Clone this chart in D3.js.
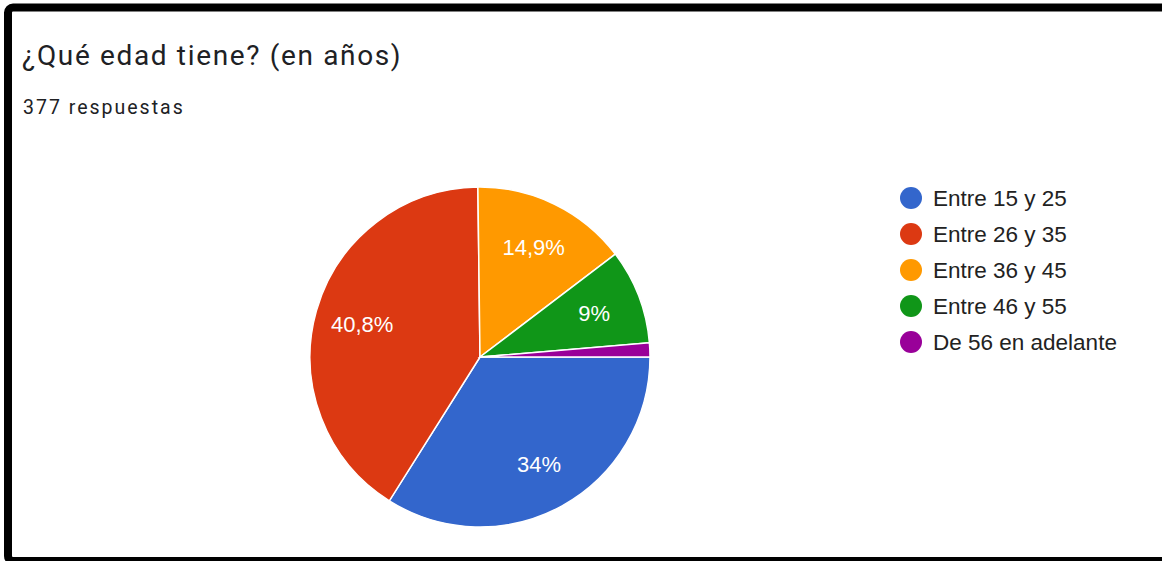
<!DOCTYPE html>
<html>
<head>
<meta charset="utf-8">
<script src="https://cdn.jsdelivr.net/npm/d3@7"></script>
<style>
  body { margin: 0; background: #fff; }
  svg { display: block; }
</style>
</head>
<body>
<svg id="drawing_region"></svg>
<script>
// data (377 respuestas)
const categories = ['Entre 15 y 25', 'Entre 26 y 35', 'Entre 36 y 45', 'Entre 46 y 55', 'De 56 en adelante']
const counts = [128, 154, 56, 34, 5]
const labels = ['34%', '40,8%', '14,9%', '9%', '']
const colors = ['#3366cc', '#dc3912', '#ff9900', '#109618', '#990099']
const title = '¿Qué edad tiene? (en años)'
const subtitle = '377 respuestas'

class PieChart{
    constructor(config){
        this.config = {
            parent: config.parent,
            width: config.width || 1162,
            height: config.height || 561,
            cx: config.cx,
            cy: config.cy,
            radius: config.radius
        }
        this.init()
    }

    init(){
        let self = this
        self.svg = d3.select(self.config.parent)
            .attr('width', self.config.width)
            .attr('height', self.config.height)

        // frame of the screenshot
        self.svg.append('rect')
            .attr('x', 8).attr('y', 7.5)
            .attr('width', 1300).attr('height', 553.5)
            .attr('rx', 5)
            .attr('fill', 'none')
            .attr('stroke', '#000')
            .attr('stroke-width', 8)

        self.chart = self.svg.append('g')
            .attr('transform', `translate(${self.config.cx},${self.config.cy})`)

        self.pie = d3.pie()
            .sort(null)
            .startAngle(Math.PI / 2)
            .endAngle(Math.PI / 2 + 2 * Math.PI)
            .value(d => d.value)

        self.arc = d3.arc().innerRadius(0).outerRadius(self.config.radius)
        self.labelArc = d3.arc().innerRadius(self.config.radius * 0.72).outerRadius(self.config.radius * 0.72)
        self.color = d3.scaleOrdinal().domain(categories).range(colors)
    }

    render(){
        let self = this
        const data = categories.map((c, i) => ({key: c, value: counts[i], label: labels[i]}))
        const arcs = self.pie(data)

        self.svg.append('text')
            .attr('x', 22).attr('y', 65)
            .attr('font-family', 'Roboto, sans-serif')
            .attr('font-size', 28)
            .attr('letter-spacing', 1.65)
            .attr('fill', '#202124')
            .text(title)

        self.svg.append('text')
            .attr('x', 23).attr('y', 114)
            .attr('font-family', 'Roboto, sans-serif')
            .attr('font-size', 19.5)
            .attr('letter-spacing', 2)
            .attr('fill', '#202124')
            .text(subtitle)

        self.chart.selectAll('path')
            .data(arcs).enter()
            .append('path')
            .attr('d', self.arc)
            .attr('fill', d => self.color(d.data.key))
            .attr('stroke', '#fff')
            .attr('stroke-width', 1.5)

        self.chart.selectAll('text.pct')
            .data(arcs).enter()
            .append('text')
            .attr('class', 'pct')
            .attr('transform', d => `translate(${self.labelArc.centroid(d)})`)
            .attr('text-anchor', 'middle')
            .attr('dy', '0.36em')
            .attr('font-family', 'Liberation Sans, Arial, sans-serif')
            .attr('font-size', 22)
            .attr('fill', '#fff')
            .text(d => d.data.label)

        const legend = self.svg.append('g')
            .attr('transform', 'translate(911,198)')
        const ly = d3.scalePoint().domain(categories).range([0, 144])

        const item = legend.selectAll('g')
            .data(categories).enter()
            .append('g')
            .attr('transform', d => `translate(0,${ly(d)})`)
        item.append('circle')
            .attr('r', 11)
            .attr('fill', d => self.color(d))
        item.append('text')
            .attr('x', 22)
            .attr('dy', '0.36em')
            .attr('font-family', 'Liberation Sans, Arial, sans-serif')
            .attr('font-size', 22.5)
            .attr('fill', '#222')
            .text(d => d)
    }
}

const pie_chart = new PieChart({parent: '#drawing_region', width: 1162, height: 561, cx: 480, cy: 357, radius: 170})
pie_chart.render()
</script>
</body>
</html>
